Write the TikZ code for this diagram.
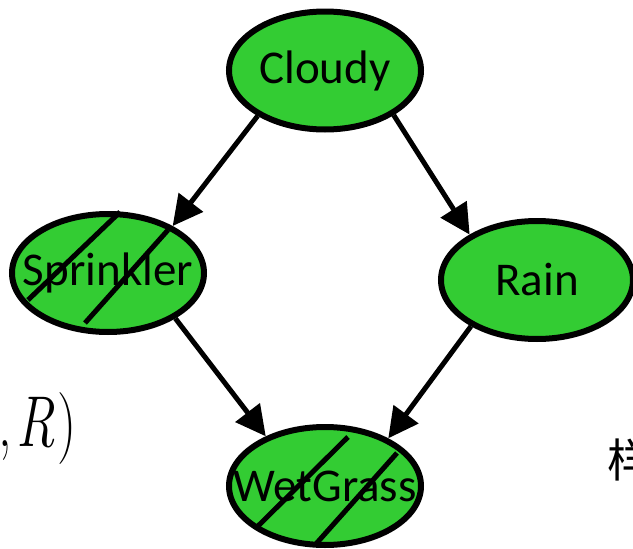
\documentclass[tikz,border=0pt]{standalone}
\usepackage{fontspec}
\setmainfont{Carlito}
\newfontfamily\cjkfont{Noto Sans CJK SC}
\newfontfamily\lmfont{Latin Modern Roman}
\usetikzlibrary{arrows.meta,calc,shapes.geometric}
\definecolor{nodegreen}{RGB}{51,204,51}
\tikzset{
  bnode/.style={ellipse, draw=black, fill=nodegreen, line width=6pt, inner sep=0pt,
    minimum width=192pt, minimum height=118pt, font=\fontsize{47}{56}\selectfont},
  edge/.style={line width=5pt, -{Triangle[length=30pt,width=30pt]}},
  hatch/.style={line width=5pt, black}
}
\newcommand{\ztext}[1]{\makebox[0pt]{#1}}
\begin{document}
\begin{tikzpicture}[x=1pt,y=-1pt]
\useasboundingbox (0,0) rectangle (633,549);
\clip (0,0) rectangle (633,549);
\node[bnode] (cloudy) at (325,70.5) {\ztext{Cloudy}};
\node[bnode] (sprinkler) at (108,273) {\ztext{Sprinkler}};
\node[bnode] (rain) at (537,280) {\ztext{Rain}};
\node[bnode] (wet) at (325,486) {\ztext{WetGrass}};
% hatching
\draw[hatch] ($(sprinkler)+(-80,27)$) -- ($(sprinkler)+(12,-61)$);
\draw[hatch] ($(sprinkler)+(-23,50)$) -- ($(sprinkler)+(60,-43)$);
\draw[hatch] ($(wet)+(-68,41)$) -- ($(wet)+(23,-49)$);
\draw[hatch] ($(wet)+(-10,59)$) -- ($(wet)+(72,-33)$);
% edges
\draw[edge] (cloudy.214) -- (sprinkler.36);
\draw[edge] (cloudy.327) -- (rain.146);
\draw[edge] (sprinkler.326) -- (wet.140);
\draw[edge] (rain.215) -- (wet.37);
% cut-off texts
\node[anchor=base east, inner sep=0pt, xscale=0.75, transform shape, font=\lmfont\fontsize{72}{76}\selectfont] (formula) at (77,446) {,\kern0.08em{\itshape R\kern0.03em}\kern0.02em)};
\node[anchor=west, inner sep=0pt, font=\cjkfont\fontsize{46}{50}\selectfont] (yang) at (607,460) {样};
\end{tikzpicture}
\end{document}
